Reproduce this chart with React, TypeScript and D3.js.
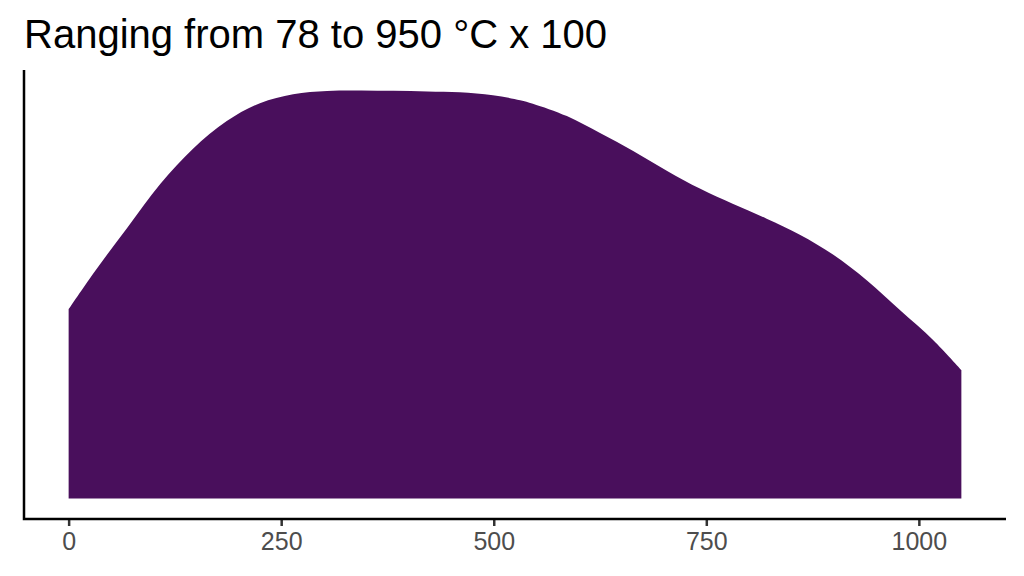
import React, { useEffect, useRef } from 'react'
import * as d3 from 'd3'

// density estimate (x in data units, y density x 1e-3)
const temps = [0, 29, 69, 108, 146, 186, 225, 264, 304, 343, 382, 422, 460, 499, 531, 546, 586, 625, 664, 704, 743, 781, 821, 860, 899, 939, 978, 1017, 1050]
const density = [0.190, 0.226, 0.272, 0.316, 0.351, 0.379, 0.397, 0.406, 0.4093, 0.4098, 0.4094, 0.4088, 0.408, 0.405, 0.400, 0.3965, 0.384, 0.367, 0.349, 0.329, 0.311, 0.296, 0.281, 0.265, 0.245, 0.219, 0.189, 0.159, 0.129]
const xTicks = [0, 250, 500, 750, 1000]
const title = 'Ranging from 78 to 950 °C x 100'

export default function App() {
  const ref = useRef<SVGSVGElement>(null)

  useEffect(() => {
    const width = 1024
    const height = 576
    const panel = { left: 24, right: 1006, top: 70, bottom: 519 }

    const svg = d3.select(ref.current)
    svg.selectAll('*').remove()

    const xMax = d3.max(temps)!
    const yMax = d3.max(density)!
    const x = d3.scaleLinear()
      .domain([-0.05 * xMax, 1.05 * xMax])
      .range([panel.left, panel.right])
    const y = d3.scaleLinear()
      .domain([-0.05 * yMax, 1.05 * yMax])
      .range([panel.bottom, panel.top])

    const pts = temps.map((t, i) => [t, density[i]] as [number, number])

    svg.append('path')
      .datum(pts)
      .attr('fill', '#490f5c')
      .attr('d', d3.area<[number, number]>()
        .x(d => x(d[0]))
        .y0(y(0))
        .y1(d => y(d[1]))
        .curve(d3.curveCatmullRom.alpha(0.5)))

    // axes
    const xAxis = svg.append('g')
      .attr('transform', `translate(0,${panel.bottom})`)
      .call(d3.axisBottom(x).tickValues(xTicks).tickSize(7).tickPadding(6).tickFormat(d3.format('d')))
    xAxis.select('.domain').remove()
    xAxis.selectAll('line').attr('stroke', '#333').attr('stroke-width', 2.5)
    xAxis.selectAll('text')
      .attr('fill', '#4d4d4d')
      .attr('font-size', 25)
      .attr('font-family', 'Liberation Sans, Arial, sans-serif')

    svg.append('path')
      .attr('d', `M${panel.left},${panel.top}V${panel.bottom}H${panel.right}`)
      .attr('fill', 'none')
      .attr('stroke', 'black')
      .attr('stroke-width', 2.5)

    svg.append('text')
      .attr('x', 24)
      .attr('y', 48)
      .attr('font-family', 'Liberation Sans, Arial, sans-serif')
      .attr('font-size', 40)
      .attr('fill', 'black')
      .text(title)

    svg.attr('width', width).attr('height', height)
  }, [])

  return (
    <svg ref={ref} style={{ position: 'absolute', left: 0, top: 0, background: 'white' }} />
  )
}
